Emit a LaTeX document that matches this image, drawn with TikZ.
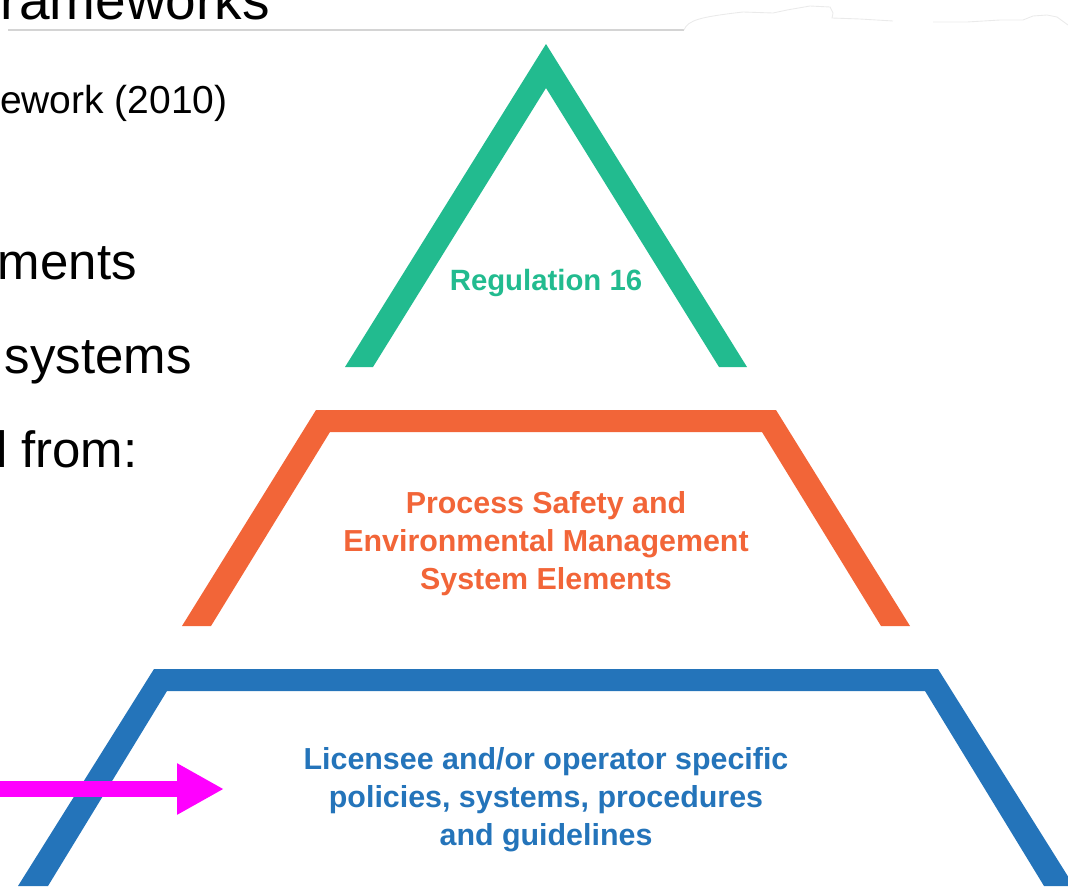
\documentclass[tikz,border=0pt]{standalone}
\usepackage{fontspec}
\setmainfont{Liberation Sans}
\usetikzlibrary{arrows.meta}
\definecolor{colorreg}{HTML}{22BB8F}
\definecolor{colorpsem}{HTML}{F26538}
\definecolor{colorlic}{HTML}{2474BA}
\definecolor{colorarr}{HTML}{FF00FF}
\definecolor{colorrule}{HTML}{D4D4D4}
\tikzset{
  tiertxt/.style={align=center, inner sep=0pt, font=\fontsize{17.3}{21.6}\selectfont\bfseries},
  bodytxt/.style={anchor=base east, inner sep=0pt, font=\fontsize{29}{34}\selectfont},
  edgearr/.style={colorarr, line width=9.1pt, -{Triangle[length=26.7pt,width=27.3pt]}}
}

\begin{document}
\begin{tikzpicture}[x=0.02cm, y=-0.02cm]
\useasboundingbox (0,0) rectangle (1068,886);
% slide text behind the picture
\node[bodytxt, font=\fontsize{31.3}{36}\selectfont] (ttl) at (270,19) {rameworks};
\draw[colorrule, line width=1.2pt] (8,30) -- (684,30);
\draw[colorrule!50, line width=0.5pt] (684,30) .. controls (688,20) and (700,17) .. (743,12)
  -- (773,13) -- (787,10) -- (810,6) -- (830,7) -- (833,13) -- (832,18) -- (860,19) -- (893,21)
  (933,22) -- (967,22) -- (1000,20) -- (1023,20) -- (1033,16) -- (1047,15) -- (1057,17) -- (1068,25);
\node[bodytxt, font=\fontsize{22.2}{26}\selectfont] (fw) at (228,113) {ework (2010)};
\node[bodytxt] (l1) at (137,279) {ments};
\node[bodytxt] (l2) at (192,373) {systems};
\node[bodytxt] (l3) at (138,467) {l from:};
% pyramid
\fill[colorreg] (546,44) -- (747,367) -- (719,367) -- (546,88) -- (373,367) -- (345,367) -- cycle;
\fill[colorpsem] (182,626) -- (316,410) -- (776,410) -- (910,626) -- (881,626) -- (762,432)
  -- (330,432) -- (211,626) -- cycle;
\fill[colorlic] (18,886) -- (154,669) -- (938,669) -- (1074,886) -- (1044,886) -- (925,691)
  -- (167,691) -- (48,886) -- cycle;
\node[tiertxt, anchor=base, colorreg, font=\fontsize{16.7}{20}\selectfont\bfseries] (reg) at (546,290) {Regulation 16};
\node[tiertxt, colorpsem] (psem) at (546,544) {Process Safety and\\Environmental Management\\System Elements};
\node[tiertxt, colorlic] (lic) at (546,800) {Licensee and/or operator specific\\policies, systems, procedures\\and guidelines};
% pointer
\coordinate (arrS) at (-10,789);
\coordinate (arrE) at (224,789);
\draw[edgearr] (arrS) -- (arrE);
\end{tikzpicture}
\end{document}
